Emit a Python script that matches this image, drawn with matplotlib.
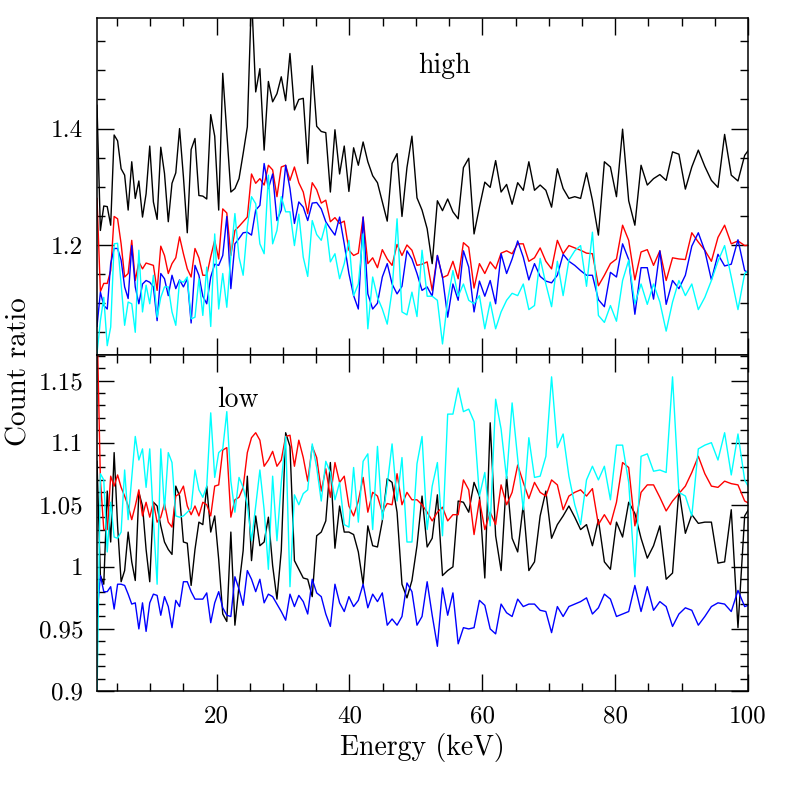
import matplotlib
matplotlib.use("Agg")
import matplotlib.pyplot as plt
from matplotlib.ticker import MultipleLocator, FixedLocator, FixedFormatter

plt.rcParams['font.family'] = ['cmr10', 'DejaVu Serif']
plt.rcParams['axes.formatter.use_mathtext'] = True
plt.rcParams['mathtext.fontset'] = 'cm'

energy = [2.00, 2.51, 3.02, 3.54, 4.06, 4.58, 5.10, 5.63, 6.16, 6.69, 7.23, 7.76, 8.30, 8.85, 9.39, 9.94,
          10.49, 11.05, 11.60, 12.16, 12.73, 13.29, 13.86, 14.43, 15.01, 15.59, 16.17, 16.75, 17.34, 17.93,
          18.52, 19.12, 19.72, 20.32, 20.93, 21.54, 22.15, 22.76, 23.38, 24.00, 24.63, 25.26, 25.89, 26.52,
          27.16, 27.80, 28.44, 29.09, 29.74, 30.40, 31.05, 31.72, 32.38, 33.05, 33.72, 34.40, 35.07, 35.76,
          36.44, 37.13, 37.82, 38.52, 39.22, 39.92, 40.63, 41.34, 42.06, 42.77, 43.50, 44.22, 44.95, 45.69,
          46.42, 47.17, 47.91, 48.66, 49.41, 50.17, 50.93, 51.70, 52.46, 53.24, 54.01, 54.79, 55.58, 56.37,
          57.16, 57.96, 58.76, 59.57, 60.38, 61.19, 62.01, 62.83, 63.66, 64.49, 65.33, 66.17, 67.01, 67.86,
          68.71, 69.57, 70.43, 71.30, 72.17, 73.04, 73.92, 74.80, 75.69, 76.58, 77.48, 78.38, 79.29, 80.20,
          81.12, 82.04, 82.97, 83.90, 84.84, 85.78, 86.73, 87.68, 88.64, 89.60, 90.57, 91.54, 92.52, 93.50,
          94.49, 95.48, 96.48, 97.48, 98.49, 99.50, 100.52]

high_black = [1.44, 1.225, 1.267, 1.266, 1.234, 1.389, 1.379, 1.331, 1.320, 1.260,
              1.343, 1.280, 1.310, 1.248, 1.288, 1.370, 1.274, 1.244, 1.368, 1.323,
              1.240, 1.306, 1.324, 1.400, 1.317, 1.221, 1.364, 1.383, 1.285, 1.284,
              1.279, 1.424, 1.387, 1.260, 1.495, 1.392, 1.291, 1.297, 1.314, 1.357,
              1.403, 1.63, 1.463, 1.503, 1.363, 1.481, 1.446, 1.460, 1.489, 1.448,
              1.529, 1.432, 1.450, 1.452, 1.340, 1.508, 1.404, 1.395, 1.393, 1.291,
              1.398, 1.322, 1.370, 1.292, 1.367, 1.337, 1.377, 1.343, 1.319, 1.307,
              1.274, 1.241, 1.340, 1.357, 1.249, 1.333, 1.387, 1.281, 1.260, 1.228,
              1.168, 1.276, 1.259, 1.279, 1.257, 1.245, 1.333, 1.349, 1.219, 1.265,
              1.308, 1.299, 1.345, 1.291, 1.304, 1.270, 1.307, 1.294, 1.343, 1.294,
              1.303, 1.294, 1.265, 1.331, 1.297, 1.280, 1.283, 1.280, 1.324, 1.277,
              1.217, 1.343, 1.334, 1.283, 1.399, 1.276, 1.234, 1.337, 1.303, 1.314,
              1.321, 1.311, 1.360, 1.356, 1.296, 1.334, 1.363, 1.335, 1.311, 1.299,
              1.390, 1.320, 1.310, 1.354, 1.37]

high_red = [1.28, 1.120, 1.134, 1.134, 1.156, 1.249, 1.245, 1.202, 1.145, 1.151,
            1.208, 1.139, 1.171, 1.159, 1.169, 1.167, 1.165, 1.122, 1.198, 1.182,
            1.151, 1.168, 1.178, 1.214, 1.185, 1.159, 1.145, 1.194, 1.178, 1.148,
            1.148, 1.180, 1.208, 1.176, 1.262, 1.255, 1.182, 1.225, 1.232, 1.240,
            1.248, 1.322, 1.306, 1.314, 1.303, 1.337, 1.329, 1.283, 1.334, 1.337,
            1.311, 1.334, 1.307, 1.291, 1.254, 1.307, 1.295, 1.272, 1.277, 1.240,
            1.247, 1.237, 1.241, 1.191, 1.182, 1.186, 1.248, 1.168, 1.178, 1.161,
            1.192, 1.176, 1.165, 1.201, 1.182, 1.200, 1.191, 1.165, 1.167, 1.171,
            1.122, 1.182, 1.144, 1.148, 1.172, 1.142, 1.204, 1.196, 1.126, 1.168,
            1.151, 1.171, 1.159, 1.186, 1.190, 1.185, 1.202, 1.202, 1.172, 1.178,
            1.195, 1.172, 1.159, 1.208, 1.185, 1.199, 1.195, 1.191, 1.186, 1.185,
            1.130, 1.148, 1.168, 1.176, 1.234, 1.208, 1.140, 1.188, 1.192, 1.165,
            1.190, 1.139, 1.178, 1.176, 1.175, 1.221, 1.205, 1.191, 1.172, 1.213,
            1.234, 1.202, 1.207, 1.199, 1.20]

high_blue = [1.06, 1.119, 1.096, 1.090, 1.168, 1.194, 1.194, 1.174, 1.128, 1.108,
             1.199, 1.128, 1.099, 1.133, 1.139, 1.136, 1.128, 1.070, 1.151, 1.142,
             1.113, 1.148, 1.125, 1.140, 1.128, 1.142, 1.066, 1.165, 1.148, 1.112,
             1.099, 1.145, 1.167, 1.165, 1.182, 1.249, 1.125, 1.202, 1.211, 1.221,
             1.222, 1.217, 1.260, 1.268, 1.340, 1.297, 1.322, 1.242, 1.260, 1.337,
             1.297, 1.237, 1.274, 1.265, 1.242, 1.272, 1.273, 1.262, 1.240, 1.228,
             1.217, 1.248, 1.202, 1.151, 1.113, 1.090, 1.248, 1.116, 1.090, 1.100,
             1.145, 1.168, 1.133, 1.116, 1.129, 1.190, 1.176, 1.151, 1.122, 1.128,
             1.112, 1.182, 1.145, 1.076, 1.133, 1.105, 1.190, 1.162, 1.085, 1.138,
             1.112, 1.139, 1.099, 1.185, 1.151, 1.176, 1.207, 1.179, 1.140, 1.168,
             1.146, 1.138, 1.135, 1.148, 1.184, 1.172, 1.165, 1.156, 1.148, 1.148,
             1.106, 1.094, 1.153, 1.145, 1.202, 1.175, 1.081, 1.161, 1.161, 1.107,
             1.190, 1.098, 1.139, 1.125, 1.148, 1.198, 1.221, 1.190, 1.140, 1.184,
             1.164, 1.167, 1.209, 1.156, 1.15]

high_cyan = [1.013, 1.070, 1.110, 1.027, 1.059, 1.202, 1.203, 1.133, 1.062, 1.102,
             1.099, 1.050, 1.191, 1.085, 1.131, 1.099, 1.148, 1.076, 1.110, 1.128,
             1.128, 1.085, 1.062, 1.139, 1.136, 1.145, 1.073, 1.076, 1.142, 1.079,
             1.162, 1.060, 1.219, 1.090, 1.151, 1.093, 1.182, 1.254, 1.179, 1.148,
             1.231, 1.283, 1.271, 1.202, 1.185, 1.320, 1.202, 1.225, 1.283, 1.257,
             1.257, 1.199, 1.253, 1.179, 1.146, 1.242, 1.218, 1.208, 1.237, 1.171,
             1.185, 1.142, 1.168, 1.208, 1.113, 1.133, 1.219, 1.056, 1.145, 1.110,
             1.090, 1.064, 1.122, 1.245, 1.085, 1.080, 1.119, 1.077, 1.191, 1.112,
             1.112, 1.105, 1.030, 1.105, 1.156, 1.112, 1.133, 1.105, 1.099, 1.113,
             1.056, 1.102, 1.056, 1.085, 1.105, 1.117, 1.113, 1.133, 1.089, 1.096,
             1.177, 1.133, 1.094, 1.172, 1.113, 1.174, 1.190, 1.199, 1.129, 1.222,
             1.079, 1.067, 1.096, 1.069, 1.139, 1.174, 1.099, 1.133, 1.098, 1.133,
             1.102, 1.052, 1.102, 1.139, 1.113, 1.133, 1.089, 1.110, 1.139, 1.172,
             1.199, 1.145, 1.089, 1.151, 1.16]

low_black = [1.085, 0.993, 0.986, 1.061, 1.020, 1.092, 1.033, 0.988, 0.997, 1.028,
             1.004, 0.989, 1.060, 1.049, 1.014, 0.988, 1.052, 1.049, 1.033, 1.020,
             1.014, 1.010, 1.065, 1.057, 1.020, 1.019, 0.985, 1.014, 1.036, 1.034,
             1.065, 1.028, 1.041, 1.006, 0.962, 0.956, 1.028, 0.953, 0.985, 1.013,
             1.073, 1.005, 1.041, 1.017, 1.020, 1.040, 1.001, 0.974, 1.013, 1.108,
             1.097, 1.005, 0.998, 0.991, 0.990, 0.976, 1.025, 1.028, 1.037, 1.084,
             1.015, 1.049, 1.028, 1.028, 1.026, 1.012, 0.986, 1.033, 1.017, 1.016,
             1.037, 1.071, 1.068, 1.044, 0.986, 0.975, 0.989, 1.017, 1.057, 1.016,
             1.023, 1.058, 0.993, 0.997, 1.000, 1.053, 1.052, 1.044, 1.068, 1.057,
             0.991, 1.116, 1.025, 0.997, 1.073, 1.023, 1.012, 1.050, 0.997, 1.004,
             1.041, 1.061, 1.023, 1.034, 1.041, 1.049, 1.040, 1.030, 1.034, 1.017,
             1.038, 1.004, 0.998, 1.036, 1.024, 1.052, 1.043, 1.023, 1.007, 1.017,
             1.033, 0.990, 0.995, 1.062, 1.027, 1.042, 1.035, 1.036, 1.036, 1.003,
             1.004, 1.046, 0.951, 1.041, 1.05]

low_red = [1.20, 1.070, 1.030, 1.030, 1.073, 1.065, 1.074, 1.064, 1.057, 1.049,
           1.038, 1.049, 1.062, 1.041, 1.052, 1.040, 1.052, 1.036, 1.040, 1.051,
           1.036, 1.032, 1.057, 1.059, 1.065, 1.049, 1.042, 1.049, 1.041, 1.052,
           1.050, 1.041, 1.065, 1.066, 1.094, 1.096, 1.040, 1.054, 1.056, 1.064,
           1.092, 1.104, 1.108, 1.102, 1.081, 1.086, 1.093, 1.081, 1.086, 1.105,
           1.106, 1.081, 1.102, 1.088, 1.069, 1.097, 1.088, 1.061, 1.079, 1.056,
           1.084, 1.068, 1.073, 1.049, 1.041, 1.053, 1.072, 1.044, 1.060, 1.057,
           1.044, 1.051, 1.050, 1.075, 1.050, 1.060, 1.054, 1.054, 1.050, 1.044,
           1.037, 1.044, 1.048, 1.037, 1.042, 1.042, 1.070, 1.062, 1.026, 1.054,
           1.030, 1.044, 1.034, 1.066, 1.050, 1.060, 1.082, 1.068, 1.055, 1.068,
           1.060, 1.057, 1.070, 1.066, 1.046, 1.057, 1.060, 1.062, 1.057, 1.063,
           1.034, 1.042, 1.034, 1.052, 1.084, 1.080, 1.033, 1.060, 1.066, 1.066,
           1.056, 1.045, 1.053, 1.059, 1.065, 1.076, 1.089, 1.075, 1.065, 1.064,
           1.069, 1.067, 1.066, 1.053, 1.05]

low_blue = [0.961, 0.993, 0.980, 0.980, 0.984, 0.966, 0.986, 0.986, 0.985, 0.978,
            0.970, 0.971, 0.950, 0.971, 0.948, 0.971, 0.978, 0.977, 0.961, 0.976,
            0.968, 0.951, 0.973, 0.968, 0.988, 0.988, 0.980, 0.974, 0.974, 0.974,
            0.979, 0.955, 0.971, 0.980, 0.967, 0.961, 0.960, 0.992, 0.982, 0.969,
            0.997, 0.990, 0.980, 0.990, 0.971, 0.978, 0.976, 0.970, 0.964, 0.957,
            0.978, 0.968, 0.977, 0.972, 0.962, 0.990, 0.979, 0.976, 0.962, 0.952,
            0.986, 0.971, 0.964, 0.976, 0.968, 0.973, 0.986, 0.967, 0.978, 0.972,
            0.979, 0.953, 0.958, 0.953, 0.960, 0.987, 0.980, 0.953, 0.960, 0.988,
            0.961, 0.936, 0.983, 0.961, 0.979, 0.938, 0.951, 0.950, 0.951, 0.973,
            0.969, 0.950, 0.946, 0.970, 0.963, 0.960, 0.974, 0.968, 0.970, 0.970,
            0.965, 0.964, 0.947, 0.968, 0.960, 0.968, 0.970, 0.972, 0.975, 0.962,
            0.967, 0.978, 0.974, 0.960, 0.962, 0.964, 0.985, 0.964, 0.984, 0.965,
            0.972, 0.968, 0.952, 0.962, 0.967, 0.965, 0.953, 0.960, 0.968, 0.971,
            0.970, 0.964, 0.981, 0.968, 0.97]

low_cyan = [0.895, 1.075, 1.070, 1.012, 1.052, 1.024, 1.023, 1.028, 1.078, 1.038,
            1.072, 1.105, 1.086, 1.095, 1.064, 1.095, 1.038, 0.986, 1.095, 1.046,
            1.092, 1.084, 1.041, 1.040, 1.041, 1.044, 1.047, 1.078, 1.062, 1.056,
            1.065, 1.124, 1.072, 1.092, 1.095, 1.125, 1.069, 1.044, 1.072, 1.064,
            1.050, 1.021, 1.049, 1.078, 1.046, 0.998, 1.073, 1.021, 1.068, 1.105,
            0.984, 1.058, 1.050, 1.059, 1.062, 1.099, 1.080, 1.053, 1.085, 1.076,
            1.054, 1.068, 1.034, 1.032, 1.080, 1.036, 1.085, 1.091, 1.030, 1.097,
            1.038, 1.066, 1.099, 1.053, 1.088, 1.020, 1.020, 1.083, 1.105, 1.030,
            1.065, 1.084, 1.025, 1.123, 1.123, 1.144, 1.125, 1.127, 1.117, 1.057,
            1.076, 1.033, 1.135, 1.111, 1.071, 1.132, 1.087, 1.046, 1.104, 1.072,
            1.073, 1.089, 1.153, 1.096, 1.107, 1.073, 1.050, 1.034, 1.070, 1.081,
            1.070, 1.081, 1.054, 1.098, 1.098, 1.068, 0.992, 1.089, 1.091, 1.077,
            1.078, 1.076, 1.153, 1.060, 1.057, 1.041, 1.095, 1.098, 1.100, 1.086,
            1.108, 1.074, 1.107, 1.070, 1.06]

low_ticks = [0.9, 0.95, 1.0, 1.05, 1.1, 1.15]
low_tick_labels = ['0.9', '0.95', '1', '1.05', '1.1', '1.15']
high_ticks = [1.2, 1.4]
high_tick_labels = ['1.2', '1.4']
x_ticks = [20, 40, 60, 80, 100]
x_tick_labels = ['20', '40', '60', '80', '100']

colors = {'black': '#000000', 'red': '#ff0000', 'blue': '#0000ff', 'cyan': '#00ffff'}

fig = plt.figure(figsize=(7.89, 7.89), dpi=100)
L, W = 97 / 789, 651 / 789
ax1 = fig.add_axes([L, 1 - 355 / 789, W, 337 / 789])
ax2 = fig.add_axes([L, 1 - 691 / 789, W, 336 / 789])

lw = 1.0
for ax, series in ((ax1, (high_black, high_red, high_blue, high_cyan)),
                   (ax2, (low_black, low_red, low_blue, low_cyan))):
    for vals, c in zip(series, ('black', 'red', 'blue', 'cyan')):
        ax.plot(energy, vals, color=colors[c], lw=lw)
    ax.set_xlim(2, 100)
    ax.xaxis.set_major_locator(FixedLocator(x_ticks))
    ax.xaxis.set_minor_locator(MultipleLocator(5))
    ax.tick_params(which='both', direction='in', top=True, right=True, width=1.0)
    ax.tick_params(which='major', length=12, labelsize=18, pad=10)
    ax.tick_params(which='minor', length=6)
    for s in ax.spines.values():
        s.set_linewidth(1.1)

ax1.set_ylim(1.011, 1.59)
ax1.yaxis.set_major_locator(FixedLocator(high_ticks))
ax1.yaxis.set_major_formatter(FixedFormatter(high_tick_labels))
ax1.yaxis.set_minor_locator(MultipleLocator(0.05))
ax1.tick_params(axis='x', labelbottom=False)

ax2.set_ylim(0.9, 1.1706)
ax2.yaxis.set_major_locator(FixedLocator(low_ticks))
ax2.yaxis.set_major_formatter(FixedFormatter(low_tick_labels))
ax2.yaxis.set_minor_locator(MultipleLocator(0.01))
ax2.xaxis.set_major_formatter(FixedFormatter(x_tick_labels))

ax1.text(0.533, 0.836, 'high', transform=ax1.transAxes, ha='center', va='baseline', fontsize=20)
ax2.text(0.217, 0.845, 'low', transform=ax2.transAxes, ha='center', va='baseline', fontsize=20)

fig.text(19 / 789, 1 - 372 / 789, 'Count ratio', rotation=90, ha='center', va='center', fontsize=21)
fig.text(422 / 789, 1 - 755 / 789, 'Energy (keV)', ha='center', va='baseline', fontsize=20)

fig.savefig('out.png', dpi=100)
